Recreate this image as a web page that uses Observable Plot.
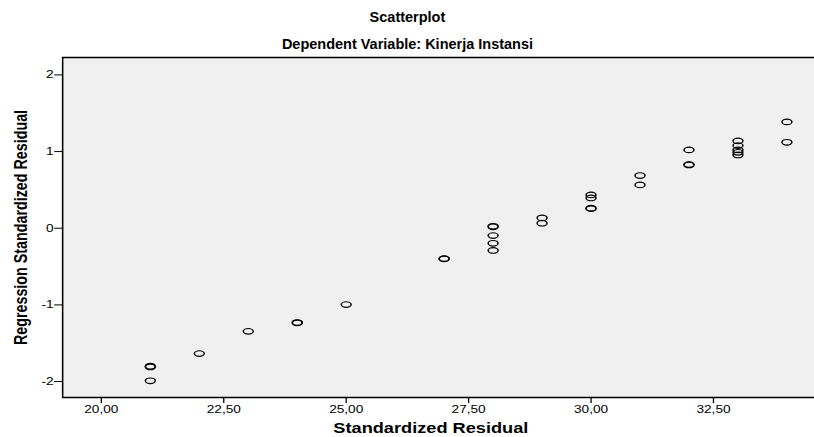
<!DOCTYPE html>
<html>
<head>
<meta charset="utf-8">
<script src="https://cdn.jsdelivr.net/npm/d3@7"></script>
<script src="https://cdn.jsdelivr.net/npm/@observablehq/plot@0.6"></script>
<style>
  html, body { margin: 0; padding: 0; background: #ffffff; }
  #chart svg { display: block; }
</style>
</head>
<body>
<div id="chart"></div>
<script>
// ---- data ----
const xValues = [21,21,21,22,23,24,24,25,27,27,28,28,28,28,28,29,29,30,30,30,30,31,31,32,32,32,33,33,33,33,33,34,34];
const yValues = [-1.80,-1.81,-1.99,-1.635,-1.345,-1.23,-1.235,-0.996,-0.396,-0.40,0.025,0.018,-0.096,-0.196,-0.29,0.135,0.065,0.435,0.395,0.262,0.255,0.687,0.565,1.022,0.83,0.825,1.139,1.078,1.022,0.99,0.956,1.387,1.121];
const xTicks = [20, 22.5, 25, 27.5, 30, 32.5];
const yTicks = [-2, -1, 0, 1, 2];
const titleText = "Scatterplot";
const subtitleText = "Dependent Variable: Kinerja Instansi";
const xLabel = "Standardized Residual";
const yLabel = "Regression Standardized Residual";
const xDomain = [19.21, 34.566];
const yDomain = [-2.208, 2.227];

const points = xValues.map((x, i) => ({x, y: yValues[i]}));

// ---- layout ----
const W = 814, H = 437, S = 1.3; // the reference plot area is horizontally stretched
const UW = W / S;

const ellipse = {
  draw(context) {
    const rx = 3.8, ry = 2.8, k = 0.5523;
    context.moveTo(rx, 0);
    context.bezierCurveTo(rx, ry * k, rx * k, ry, 0, ry);
    context.bezierCurveTo(-rx * k, ry, -rx, ry * k, -rx, 0);
    context.bezierCurveTo(-rx, -ry * k, -rx * k, -ry, 0, -ry);
    context.bezierCurveTo(rx * k, -ry, rx, -ry * k, rx, 0);
    context.closePath();
  }
};

const fmtX = d => d.toFixed(2).replace(".", ",");

const svg = Plot.plot({
  width: UW,
  height: H,
  marginLeft: 62 / S,
  marginRight: 0,
  marginTop: 57,
  marginBottom: 40,
  style: {fontFamily: "'Liberation Sans', Arial, sans-serif", background: "#ffffff", color: "#000000", overflow: "visible"},
  x: {domain: xDomain},
  y: {domain: yDomain},
  marks: [
    Plot.frame({fill: "#f0f0f0", stroke: null}),
    Plot.ruleX([xDomain[0]], {stroke: "#000000", strokeWidth: 1.2}),
    Plot.ruleY([yDomain[0]], {stroke: "#000000", strokeWidth: 1.3}),
    Plot.ruleY([yDomain[1]], {stroke: "#000000", strokeWidth: 1.3}),
    Plot.axisX({ticks: xTicks, tickFormat: fmtX, tickSize: 6, tickPadding: 2.5, fontSize: 10.5, label: null, stroke: "#000000"}),
    Plot.axisY({ticks: yTicks, tickFormat: d => String(d), tickSize: 6, tickPadding: 1, fontSize: 10.5, label: null, stroke: "#000000"}),
    Plot.dot(points, {x: "x", y: "y", symbol: ellipse, stroke: "#000000", strokeWidth: 1.15, fill: "none"}),
    Plot.text([xLabel], {text: d => d, frameAnchor: "bottom", lineAnchor: "bottom", dy: 35, dx: -6, fontSize: 14, fontWeight: "bold"}),
    Plot.text([yLabel], {text: d => d, frameAnchor: "left", textAnchor: "middle", lineAnchor: "middle", rotate: -90, dx: -32, fontSize: 14.3, fontWeight: "bold"}),
    Plot.text([titleText], {text: d => d, frameAnchor: "top", lineAnchor: "top", dy: -46, dx: -24, fontSize: 14.5, fontWeight: "bold"}),
    Plot.text([subtitleText], {text: d => d, frameAnchor: "top", lineAnchor: "top", dy: -19, dx: -24, fontSize: 14.5, fontWeight: "bold"})
  ]
});

// titles are not stretched in the reference: undo the horizontal stretch for them
svg.querySelectorAll("text").forEach(t => {
  if (t.textContent === titleText || t.textContent === subtitleText) {
    const tr = t.getAttribute("transform") || "";
    t.setAttribute("transform", tr + ` scale(${1 / S},1)`);
  }
});

svg.setAttribute("width", W);
svg.setAttribute("height", H);
svg.setAttribute("viewBox", `0 0 ${UW} ${H}`);
svg.setAttribute("preserveAspectRatio", "none");
svg.style.width = W + "px";
svg.style.height = H + "px";
svg.style.maxWidth = "none";
document.getElementById("chart").appendChild(svg);
</script>
</body>
</html>
